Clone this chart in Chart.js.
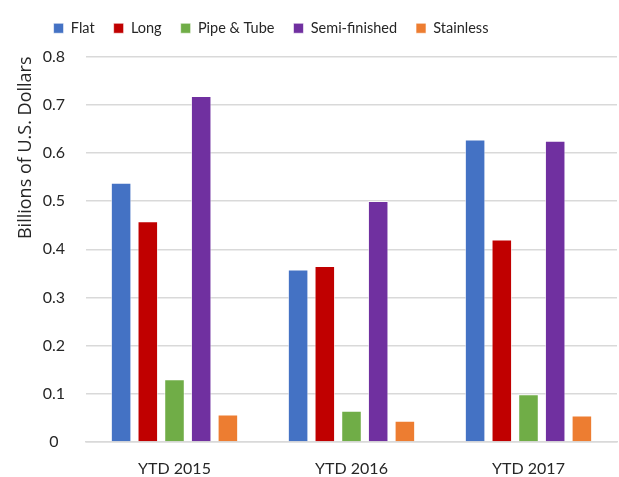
<!DOCTYPE html>
<html>
<head>
<meta charset="utf-8">
<script src="https://cdn.jsdelivr.net/npm/chart.js@4/dist/chart.umd.min.js"></script>
<style>
  html, body { margin: 0; padding: 0; background: #fff; }
  #wrap { width: 619px; height: 477px; position: relative; }
</style>
</head>
<body>
<div id="wrap"><canvas id="chart"></canvas></div>
<script>
/* ---- DATA ---- */
const categories   = ['YTD 2015', 'YTD 2016', 'YTD 2017'];
const flat         = [0.538, 0.358, 0.628];
const long         = [0.458, 0.365, 0.420];
const pipeTube     = [0.130, 0.065, 0.099];
const semiFinished = [0.718, 0.500, 0.625];
const stainless    = [0.057, 0.044, 0.055];
const yTicks       = [0, 0.1, 0.2, 0.3, 0.4, 0.5, 0.6, 0.7, 0.8];

const FONT = 'Lato, "Open Sans", sans-serif';

const series = [
  { label: 'Flat',          data: flat,         color: '#4472c4' },
  { label: 'Long',          data: long,         color: '#c00000' },
  { label: 'Pipe & Tube',   data: pipeTube,     color: '#70ad47' },
  { label: 'Semi-finished', data: semiFinished, color: '#7030a0' },
  { label: 'Stainless',     data: stainless,    color: '#ed7d31' }
];

// legend sits left of centre and a bit higher, like the Excel original
const legendShift = {
  id: 'legendShift',
  afterLayout(chart) {
    const l = chart.legend;
    if (!l) return;
    l.left -= 44; l.right -= 44;
    l.top -= 11;  l.bottom -= 11;
  }
};

new Chart(document.getElementById('chart'), {
  type: 'bar',
  data: {
    labels: categories,
    datasets: series.map(s => ({
      label: s.label,
      data: s.data,
      backgroundColor: s.color,
      borderColor: 'rgba(255,255,255,0.6)',
      borderWidth: 1,
      categoryPercentage: 0.754,
      barPercentage: 0.77
    }))
  },
  plugins: [legendShift],
  options: {
    responsive: true,
    maintainAspectRatio: false,
    animation: false,
    layout: { padding: { left: 13, right: 2, top: 13, bottom: 0 } },
    plugins: {
      legend: {
        position: 'top',
        labels: {
          color: '#262626',
          font: { family: FONT, size: 14.5 },
          boxWidth: 10,
          boxHeight: 10,
          padding: 19
        }
      },
      tooltip: { enabled: false }
    },
    scales: {
      x: {
        grid: { display: false, drawTicks: false },
        border: { color: '#d9d9d9', width: 1.5 },
        ticks: { color: '#262626', font: { family: FONT, size: 16 }, padding: 17 },
        afterFit: axis => { axis.height = 35; }
      },
      y: {
        min: 0,
        max: 0.8,
        afterBuildTicks: axis => { axis.ticks = yTicks.map(v => ({ value: v })); },
        afterFit: axis => { axis.width = 73; },
        grid: { color: '#d9d9d9', lineWidth: 1.5, drawTicks: false },
        border: { display: false },
        ticks: {
          color: '#262626',
          font: { family: FONT, size: 16 },
          padding: 21,
          crossAlign: 'center',
          callback: v => String(v)
        },
        title: {
          display: true,
          text: 'Billions of U.S. Dollars',
          align: 'end',
          color: '#262626',
          font: { family: '"Open Sans", Lato, sans-serif', size: 18 },
          padding: { top: 2, bottom: 0 }
        }
      }
    }
  }
});
</script>
</body>
</html>
